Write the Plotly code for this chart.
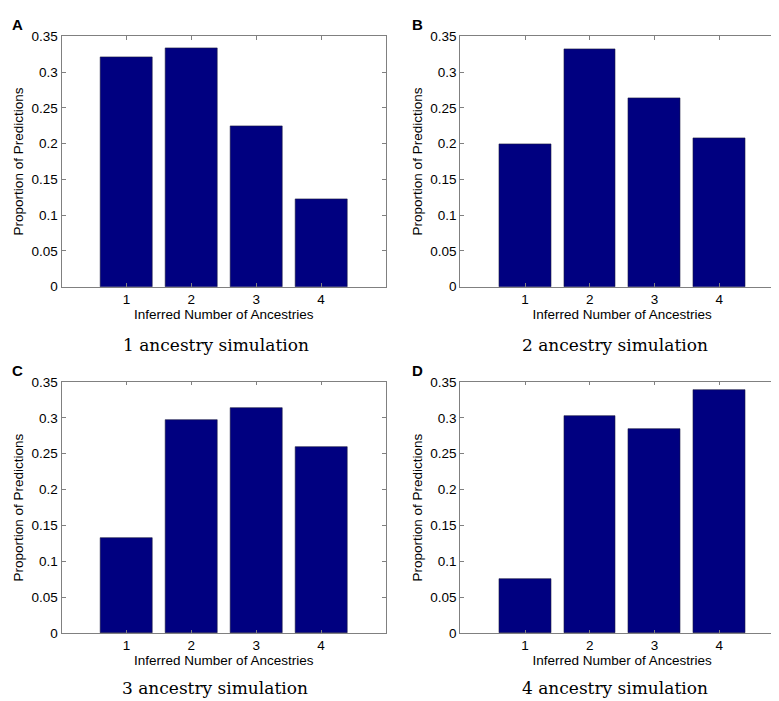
import plotly.graph_objects as go

# ---- data ----
categories = [1, 2, 3, 4]
vals_A = [0.320, 0.333, 0.224, 0.122]
vals_B = [0.199, 0.332, 0.264, 0.208]
vals_C = [0.132, 0.297, 0.314, 0.259]
vals_D = [0.075, 0.303, 0.284, 0.339]
panel_letters = ["A", "B", "C", "D"]
subtitles = ["1 ancestry simulation", "2 ancestry simulation",
             "3 ancestry simulation", "4 ancestry simulation"]
ytick_vals = [0, 0.05, 0.1, 0.15, 0.2, 0.25, 0.3, 0.35]
ytick_text = ["0", "0.05", "0.1", "0.15", "0.2", "0.25", "0.3", "0.35"]
x_title = "Inferred Number of Ancestries"
y_title = "Proportion of Predictions"

W, H = 779, 701
BAR = "#000080"
AXC = "#808080"
SANS = "Liberation Sans, Arial, Helvetica, sans-serif"

# pixel layout (left, right, top, bottom) of each axes box
boxes = [(53.5, 378.0, 21.7, 277.7), (452.3, 776.0, 21.7, 277.7),
         (53.5, 378.0, 375.0, 631.7), (452.3, 776.0, 375.0, 631.7)]
sub_pos = [(207.5, 337), (607, 337), (207, 688), (607, 688)]
letter_pos = [(2, 10), (402, 10), (2, 363), (402, 363)]

fig = go.Figure()
all_vals = [vals_A, vals_B, vals_C, vals_D]
for i, v in enumerate(all_vals):
    n = "" if i == 0 else str(i + 1)
    fig.add_trace(go.Bar(x=categories, y=v, width=0.8,
                         marker=dict(color=BAR, line=dict(color="#1a1a40", width=0.6)),
                         xaxis="x" + n, yaxis="y" + n, showlegend=False))
    l, r, t, b = boxes[i]
    xa = dict(domain=[l / W, r / W], range=[0, 5], tickvals=categories,
              ticks="inside", ticklen=3.5, tickcolor=AXC, showline=True, linecolor=AXC,
              linewidth=1, mirror="ticks", showgrid=False, zeroline=False,
              tickfont=dict(family=SANS, size=13.5, color="black"),
              title=dict(text=x_title, standoff=0, font=dict(family=SANS, size=13.5, color="black")),
              anchor="y" + n, fixedrange=True)
    ya = dict(domain=[1 - b / H, 1 - t / H], range=[0, 0.35], tickvals=ytick_vals,
              ticktext=ytick_text, ticks="inside", ticklen=4, tickcolor=AXC,
              showline=True, linecolor=AXC, linewidth=1, mirror="ticks",
              showgrid=False, zeroline=False,
              tickfont=dict(family=SANS, size=13.5, color="black"),
              title=dict(text=y_title, standoff=4, font=dict(family=SANS, size=13.5, color="black")),
              anchor="x" + n, fixedrange=True)
    fig.layout["xaxis" + n] = xa
    fig.layout["yaxis" + n] = ya

    sx, sy = sub_pos[i]
    fig.add_annotation(text=subtitles[i], xref="paper", yref="paper",
                       x=sx / W, y=1 - sy / H, xanchor="center", yanchor="middle",
                       showarrow=False, font=dict(family="DejaVu Serif", size=17, color="black"))
    lx, ly = letter_pos[i]
    fig.add_annotation(text="<b>" + panel_letters[i] + "</b>", xref="paper", yref="paper",
                       x=lx / W, y=1 - ly / H, xanchor="left", yanchor="middle",
                       showarrow=False, font=dict(family=SANS, size=15, color="black"))

fig.update_layout(width=W, height=H, margin=dict(l=0, r=0, t=0, b=0),
                  paper_bgcolor="white", plot_bgcolor="white", bargap=0)
fig.write_html("out.html")
